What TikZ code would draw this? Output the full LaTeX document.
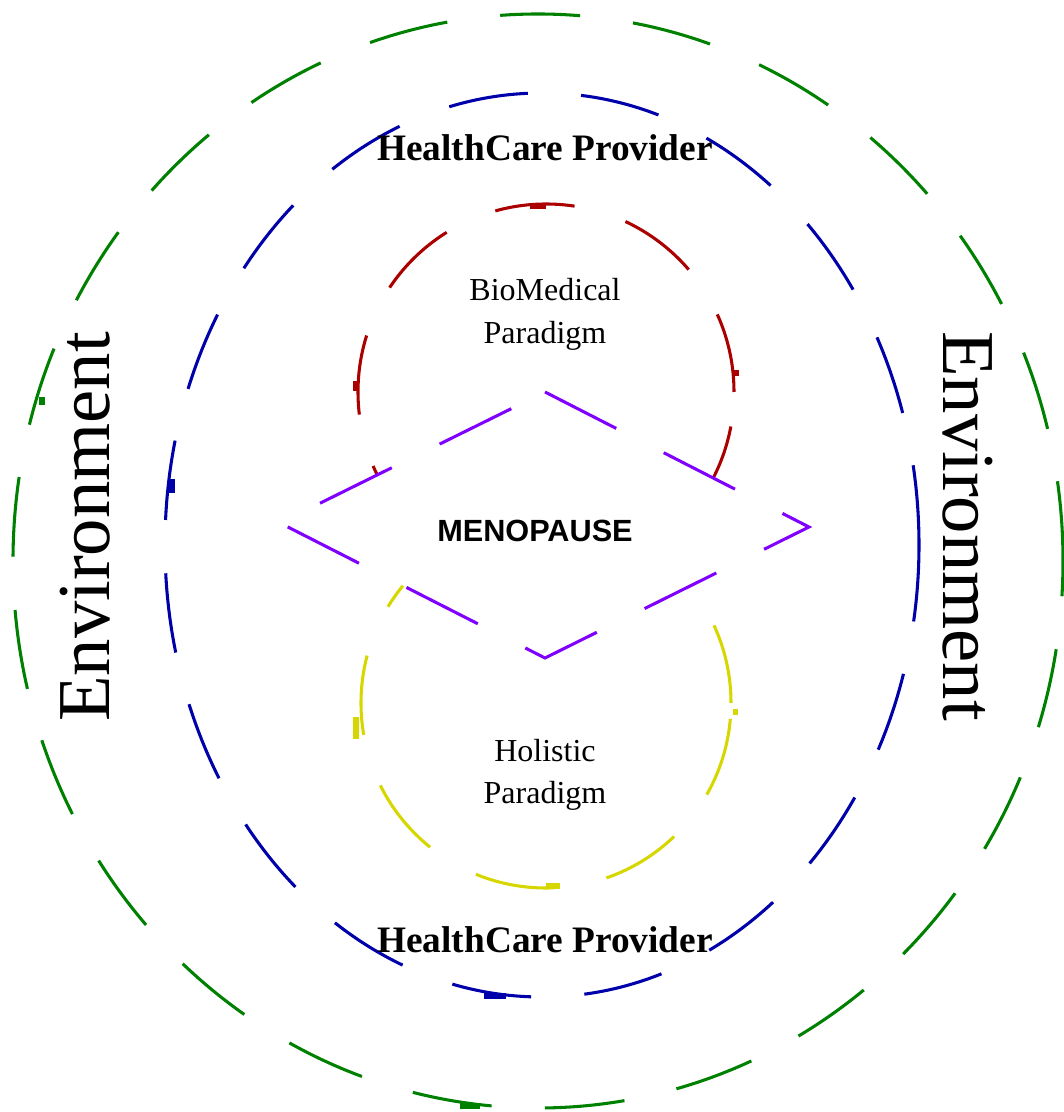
\documentclass[tikz,border=0pt]{standalone}
\usepackage{fontspec}
\setmainfont{Liberation Serif}
\newfontfamily\menofont{Liberation Sans}
\usetikzlibrary{positioning}

\definecolor{envgreen}{RGB}{0,128,0}
\definecolor{provblue}{RGB}{0,0,170}
\definecolor{biored}{RGB}{170,0,0}
\definecolor{holyellow}{RGB}{214,214,0}
\definecolor{menopurple}{RGB}{128,0,255}

\begin{document}
\begin{tikzpicture}[x=0.75pt, y=0.75pt,
    ring/.style = {line width=2.3pt, dash pattern=on 60pt off 40pt},
    paradigm/.style = {anchor=base, font=\fontsize{24}{28}\selectfont},
    provider/.style = {anchor=base, font=\fontsize{28}{32}\selectfont\bfseries},
    env/.style = {anchor=base, font=\fontsize{56}{60}\selectfont}]
  \useasboundingbox (-545,-587) rectangle (518,525);

  \coordinate (c) at (0,0);
  \coordinate (top) at (0,133);
  \coordinate (right) at (264,-2);
  \coordinate (bottom) at (0,-133);
  \coordinate (left) at (-265,2);

  \draw[ring, envgreen] (-7,-36) ellipse [x radius=525, y radius=547];
  \draw[ring, provblue] (-3,-20) ellipse [x radius=377, y radius=452];
  \draw[ring, biored] (1,133) circle [radius=188];
  \draw[ring, holyellow] (1,-178) circle [radius=185];
  % the diamond hides both paradigm rings inside it
  \fill[white] (top) -- (right) -- (bottom) -- (left) -- cycle;
  \draw[ring, menopurple] (top) -- (right) -- (bottom) -- (left) -- cycle;

  \fill[envgreen] (-506,120) rectangle ++(6,8);
  \fill[envgreen] (-85,-584) rectangle ++(20,6);
  \fill[provblue] (-376,32) rectangle ++(6,14);
  \fill[provblue] (-61,-474) rectangle ++(22,6);
  \fill[biored] (-15,316) rectangle ++(16,6);
  \fill[biored] (-192,134) rectangle ++(6,10);
  \fill[biored] (189,149) rectangle ++(5,6);
  \fill[holyellow] (-192,-214) rectangle ++(6,22);
  \fill[holyellow] (1,-364) rectangle ++(14,6);
  \fill[holyellow] (188,-190) rectangle ++(5,6);

  \node[provider] (provtop) at (0,364) {HealthCare Provider};
  \node[provider] (provbot) at (0,-427) {HealthCare Provider};
  \node[paradigm] (bio) at (0,224) {BioMedical};
  \node[paradigm] (bio2) at ([yshift=-32pt]bio.base) {Paradigm};
  \node[paradigm] (hol) at (0,-236) {Holistic};
  \node[paradigm] (hol2) at ([yshift=-32pt]hol.base) {Paradigm};
  \node[anchor=base, font=\menofont\fontsize{23}{27}\selectfont\bfseries] (meno) at (-10,-17) {MENOPAUSE};
  \node[env, rotate=90] (envleft) at (-435,-2) {Environment};
  \node[env, rotate=-90] (envright) at (398,-1) {Environment};
\end{tikzpicture}
\end{document}
